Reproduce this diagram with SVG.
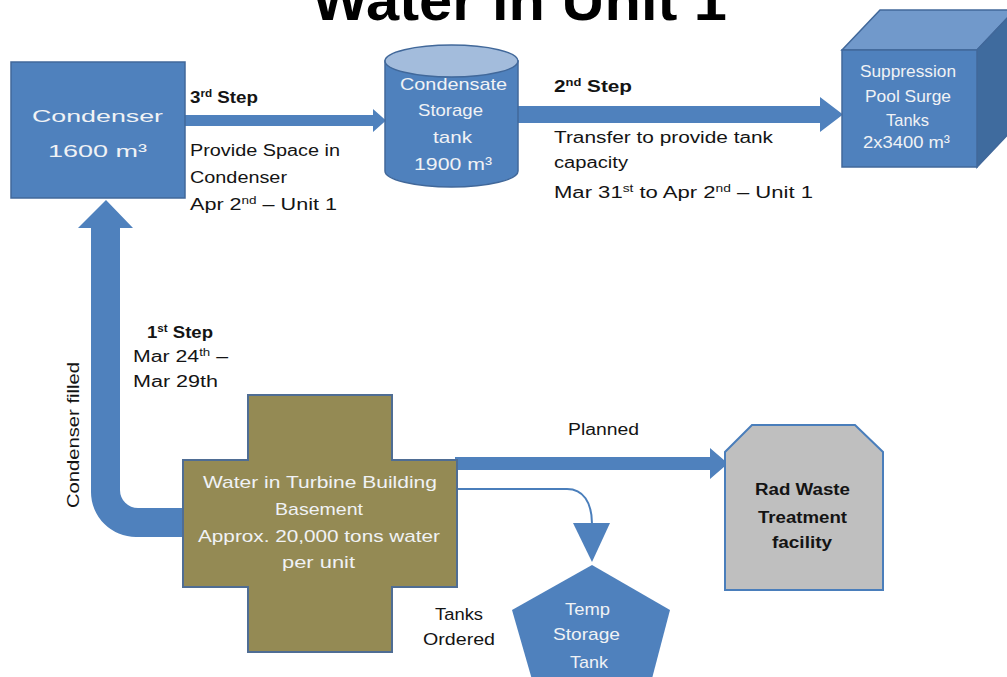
<svg xmlns="http://www.w3.org/2000/svg" width="1007" height="677" viewBox="0 0 1007 677">
<style>
text{font-family:"Liberation Sans",Arial,sans-serif;}
.t{fill:#141414;font-size:16px;}
.b{font-weight:bold;}
.w{fill:#f0f2f5;font-size:17px;text-anchor:start;}
.blue{fill:#4f81bd;stroke:#41689a;stroke-width:1.5;}
.arr{fill:#4f81bd;stroke:none;}
</style>
<rect width="1007" height="677" fill="#ffffff"/>
<text id="title" x="312" y="20" textLength="415" lengthAdjust="spacingAndGlyphs" font-size="58" class="b" fill="#000">Water in Unit  1</text>

<g id="connectors">
  <polygon class="arr" points="185,115 373,115 373,109 386,120.5 373,132 373,126 185,126"/>
  <polygon class="arr" points="518,106 820,106 820,97 843,114.5 820,132 820,123 518,123"/>
  <path class="arr" d="M106,200 L133,228 L120,228 L120,490 A18,18 0 0 0 138,508 L186,508 L186,537 L136,537 A45,45 0 0 1 91,492 L91,228 L78,228 Z"/>
  <polygon class="arr" points="455,457 710,457 710,448 728,463.5 710,479 710,470 455,470"/>
  <path d="M455,489 H567 C583,489 592,502 592,524" fill="none" stroke="#4a7ebb" stroke-width="2"/>
  <polygon class="arr" points="573,523 610,523 592,562"/>
</g>

<g id="condenser">
  <rect x="11" y="62" width="174" height="136" class="blue"/>
  <text class="w" x="32" y="122" font-size="25" textLength="131" lengthAdjust="spacingAndGlyphs">Condenser</text>
  <text class="w" x="48" y="157" font-size="25" textLength="99" lengthAdjust="spacingAndGlyphs">1600 m³</text>
</g>

<g id="cst">
  <path d="M385,61 V171 A66.5,16 0 0 0 518,171 V61 Z" class="blue"/>
  <ellipse cx="451.5" cy="61" rx="66.5" ry="16" fill="#a3bcdc" stroke="#41689a" stroke-width="1.5"/>
  <text class="w" x="400" y="90" textLength="107" lengthAdjust="spacingAndGlyphs">Condensate</text>
  <text class="w" x="418" y="116" textLength="65" lengthAdjust="spacingAndGlyphs">Storage</text>
  <text class="w" x="433" y="143" textLength="39" lengthAdjust="spacingAndGlyphs">tank</text>
  <text class="w" x="414" y="170" textLength="78" lengthAdjust="spacingAndGlyphs">1900 m³</text>
</g>

<g id="suppression">
  <polygon points="842,50 880,10 1015,10 977,50" fill="#7199cb" stroke="#41689a" stroke-width="1.5"/>
  <polygon points="977,50 1015,10 1015,127 977,167" fill="#3f6b9e" stroke="#41689a" stroke-width="1.5"/>
  <rect x="842" y="50" width="135" height="117" class="blue"/>
  <text class="w" x="860" y="77" font-size="15" textLength="96" lengthAdjust="spacingAndGlyphs">Suppression</text>
  <text class="w" x="865" y="102" font-size="15" textLength="86" lengthAdjust="spacingAndGlyphs">Pool Surge</text>
  <text class="w" x="886" y="126" font-size="15" textLength="43" lengthAdjust="spacingAndGlyphs">Tanks</text>
  <text class="w" x="863" y="148" font-size="15" textLength="87" lengthAdjust="spacingAndGlyphs">2x3400 m³</text>
</g>

<g id="basement">
  <polygon points="248,395 392,395 392,460 457,460 457,587 392,587 392,652 248,652 248,587 183,587 183,460 248,460" fill="#948a54" stroke="#4f6d94" stroke-width="2"/>
  <text class="w" x="203" y="488" textLength="234" lengthAdjust="spacingAndGlyphs">Water in Turbine  Building</text>
  <text class="w" x="275" y="515" textLength="88" lengthAdjust="spacingAndGlyphs">Basement</text>
  <text class="w" x="198" y="542" textLength="242" lengthAdjust="spacingAndGlyphs">Approx. 20,000 tons water</text>
  <text class="w" x="282" y="568" textLength="73" lengthAdjust="spacingAndGlyphs">per unit</text>
</g>

<g id="radwaste">
  <polygon points="752,425 855,425 883,452 883,590 725,590 725,452" fill="#bfbfbf" stroke="#4a7ebb" stroke-width="2"/>
  <text class="t b" x="755" y="495" font-size="17" textLength="95" lengthAdjust="spacingAndGlyphs">Rad  Waste</text>
  <text class="t b" x="758" y="523" font-size="17" textLength="89" lengthAdjust="spacingAndGlyphs">Treatment</text>
  <text class="t b" x="772" y="548" font-size="17" textLength="60" lengthAdjust="spacingAndGlyphs">facility</text>
</g>

<g id="tempstorage">
  <polygon points="592,565 670,610 649,690 535,690 512,610" fill="#4f81bd"/>
  <text class="w" x="565" y="615" textLength="45" lengthAdjust="spacingAndGlyphs">Temp</text>
  <text class="w" x="553" y="640" textLength="67" lengthAdjust="spacingAndGlyphs">Storage</text>
  <text class="w" x="570" y="668" textLength="38" lengthAdjust="spacingAndGlyphs">Tank</text>
</g>

<g id="labels">
  <text class="t b" x="190" y="103" textLength="68" lengthAdjust="spacingAndGlyphs">3<tspan font-size="10" dy="-6">rd</tspan><tspan dy="6"> Step</tspan></text>
  <text class="t" x="190" y="156" textLength="150" lengthAdjust="spacingAndGlyphs">Provide Space in</text>
  <text class="t" x="190" y="183" textLength="97" lengthAdjust="spacingAndGlyphs">Condenser</text>
  <text class="t" x="190" y="210" textLength="147" lengthAdjust="spacingAndGlyphs">Apr 2<tspan font-size="10" dy="-6">nd</tspan><tspan dy="6">  – Unit 1</tspan></text>

  <text class="t b" x="554" y="92" textLength="78" lengthAdjust="spacingAndGlyphs">2<tspan font-size="10" dy="-6">nd</tspan><tspan dy="6">  Step</tspan></text>
  <text class="t" x="554" y="143" textLength="219" lengthAdjust="spacingAndGlyphs">Transfer  to provide tank</text>
  <text class="t" x="554" y="168" textLength="74" lengthAdjust="spacingAndGlyphs">capacity</text>
  <text class="t" x="554" y="198" textLength="259" lengthAdjust="spacingAndGlyphs">Mar 31<tspan font-size="10" dy="-6">st</tspan><tspan dy="6"> to Apr 2</tspan><tspan font-size="10" dy="-6">nd</tspan><tspan dy="6">  – Unit 1</tspan></text>

  <text class="t b" x="147" y="338" textLength="66" lengthAdjust="spacingAndGlyphs">1<tspan font-size="10" dy="-6">st</tspan><tspan dy="6"> Step</tspan></text>
  <text class="t" x="133" y="362" textLength="95" lengthAdjust="spacingAndGlyphs">Mar 24<tspan font-size="10" dy="-6">th</tspan><tspan dy="6"> –</tspan></text>
  <text class="t" x="133" y="387" textLength="85" lengthAdjust="spacingAndGlyphs">Mar 29th</text>
  <text class="t" transform="translate(79,508) rotate(-90)" x="0" y="0" textLength="146" lengthAdjust="spacingAndGlyphs">Condenser filled</text>

  <text class="t" x="568" y="435" textLength="71" lengthAdjust="spacingAndGlyphs">Planned</text>
  <text class="t" x="435" y="620" textLength="48" lengthAdjust="spacingAndGlyphs">Tanks</text>
  <text class="t" x="423" y="645" textLength="72" lengthAdjust="spacingAndGlyphs">Ordered</text>
</g>
</svg>
